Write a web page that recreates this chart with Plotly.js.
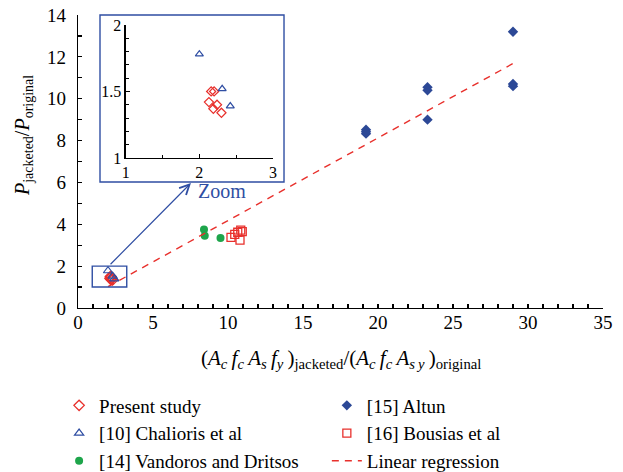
<!DOCTYPE html>
<html>
<head>
<meta charset="utf-8">
<script src="https://cdn.plot.ly/plotly-3.0.1.min.js"></script>
<style>html,body{margin:0;padding:0;background:#fff;}#chart{width:623px;height:472px;}</style>
</head>
<body>
<div id="chart"></div>
<script>
// ---- Data ----
const presentX = [2.16, 2.20, 2.13, 2.24, 2.19, 2.30];
const presentY = [1.50, 1.50, 1.42, 1.40, 1.37, 1.34];

const chaliorisX = [2.00, 2.31, 2.42];
const chaliorisY = [1.78, 1.52, 1.39];

const vandorosX = [8.40, 8.45, 9.50];
const vandorosY = [3.75, 3.45, 3.35];

const altunX = [19.2, 19.2, 19.2, 23.3, 23.3, 23.3, 29.0, 29.0, 29.0];
const altunY = [8.52, 8.42, 8.33, 10.55, 10.40, 9.00, 13.20, 10.70, 10.60];

const bousiasX = [10.20, 10.45, 10.65, 10.85, 10.95, 10.80];
const bousiasY = [3.37, 3.52, 3.62, 3.72, 3.65, 3.24];

const regressionX = [2.0, 29.0];
const regressionY = [1.02, 11.68];

const zoomBoxX = [0.95, 3.25];
const zoomBoxY = [1.0, 2.0];

const RED = '#e8302c', BLUE = '#2f4ea3', DBLUE = '#2c4896', GREEN = '#1ea54b';
const FONT = 'Times New Roman, Liberation Serif, DejaVu Serif, serif';

const traces = [
  {x: presentX, y: presentY, type: 'scatter', mode: 'markers', name: 'Present study', legend: 'legend',
   marker: {symbol: 'diamond-open', size: 8, color: RED, line: {width: 1.3}}},
  {x: chaliorisX, y: chaliorisY, type: 'scatter', mode: 'markers', name: '[10] Chalioris et al', legend: 'legend',
   marker: {symbol: 'triangle-up-open', size: 8, color: BLUE, line: {width: 1.2}}},
  {x: vandorosX, y: vandorosY, type: 'scatter', mode: 'markers', name: '[14] Vandoros and Dritsos', legend: 'legend',
   marker: {symbol: 'circle', size: 8, color: GREEN}},
  {x: altunX, y: altunY, type: 'scatter', mode: 'markers', name: '[15] Altun', legend: 'legend2',
   marker: {symbol: 'diamond', size: 8, color: DBLUE}},
  {x: bousiasX, y: bousiasY, type: 'scatter', mode: 'markers', name: '[16] Bousias et al', legend: 'legend2',
   marker: {symbol: 'square-open', size: 8, color: RED, line: {width: 1.3}}},
  {x: regressionX, y: regressionY, type: 'scatter', mode: 'lines', name: 'Linear regression', legend: 'legend2',
   line: {color: RED, width: 1.4, dash: '7px,6px'}},
  // inset
  {x: presentX, y: presentY, type: 'scatter', mode: 'markers', xaxis: 'x2', yaxis: 'y2', showlegend: false,
   marker: {symbol: 'diamond-open', size: 7, color: RED, line: {width: 1.2}}},
  {x: chaliorisX, y: chaliorisY, type: 'scatter', mode: 'markers', xaxis: 'x2', yaxis: 'y2', showlegend: false,
   marker: {symbol: 'triangle-up-open', size: 7, color: BLUE, line: {width: 1.2}}}
];

const axCommon = {showgrid: false, zeroline: false, showline: true, linecolor: '#000', linewidth: 1.3,
  ticks: 'inside', ticklen: 4, tickcolor: '#000', tickwidth: 1.2,
  tickfont: {family: FONT, size: 19, color: '#000'}};

const sp = '&#8201;';
const xTitle = '(<i>A</i><sub><i>c</i></sub>' + sp + '<i>f</i><sub><i>c</i></sub>' + sp + '<i>A</i><sub><i>s</i></sub>' + sp +
  '<i>f</i><sub><i>y</i></sub>' + sp + ')<sub>jacketed</sub>/(<i>A</i><sub><i>c</i></sub>' + sp + '<i>f</i><sub><i>c</i></sub>' + sp +
  '<i>A</i><sub><i>s</i>' + sp + '<i>y</i></sub>' + sp + ')<sub>original</sub>';

const layout = {
  width: 623, height: 472,
  margin: {l: 78, r: 20, t: 15, b: 164, autoexpand: false},
  paper_bgcolor: '#fff', plot_bgcolor: 'rgba(0,0,0,0)',
  font: {family: FONT, color: '#000'},
  xaxis: Object.assign({}, axCommon, {range: [0, 35], dtick: 5, tick0: 0, ticklabelstandoff: -3,
    minor: {dtick: 1, ticks: 'inside', ticklen: 4, tickcolor: '#000', tickwidth: 1.2}}),
  yaxis: Object.assign({}, axCommon, {range: [0, 14], dtick: 2, tick0: 0, ticklabelstandoff: 7,
    minor: {dtick: 1, ticks: 'inside', ticklen: 4, tickcolor: '#000', tickwidth: 1.2}}),
  xaxis2: Object.assign({}, axCommon, {domain: [0.0909, 0.3714], anchor: 'y2', range: [1, 3], dtick: 1, tick0: 1,
    tickfont: {family: FONT, size: 16, color: '#000'},
    minor: {dtick: 0.5, ticks: 'inside', ticklen: 3, tickcolor: '#000', tickwidth: 1}}),
  yaxis2: Object.assign({}, axCommon, {domain: [0.512, 0.966], anchor: 'x2', range: [1, 2], dtick: 0.5, tick0: 1,
    tickfont: {family: FONT, size: 16, color: '#000'},
    minor: {dtick: 0.1, ticks: 'inside', ticklen: 3, tickcolor: '#000', tickwidth: 1}}),
  showlegend: true,
  legend: {x: -0.036, xanchor: 'left', y: -0.268, yanchor: 'top', bgcolor: 'rgba(0,0,0,0)',
    font: {family: FONT, size: 19, color: '#000'}, tracegroupgap: 0},
  legend2: {x: 0.474, xanchor: 'left', y: -0.268, yanchor: 'top', bgcolor: 'rgba(0,0,0,0)',
    font: {family: FONT, size: 19, color: '#000'}, tracegroupgap: 0},
  shapes: [
    {type: 'rect', xref: 'paper', yref: 'paper', x0: 0.0419, x1: 0.3924, y0: 0.430, y1: 1.0,
     line: {color: BLUE, width: 1.4}},
    {type: 'rect', xref: 'x', yref: 'y', x0: zoomBoxX[0], x1: zoomBoxX[1], y0: zoomBoxY[0], y1: zoomBoxY[1],
     line: {color: BLUE, width: 1.4}}
  ],
  annotations: [
    {xref: 'x', yref: 'y', x: 7.53, y: 5.97, axref: 'x', ayref: 'y', ax: 2.07, ay: 2.02,
     text: '', showarrow: true, arrowhead: 5, arrowsize: 1.6, arrowwidth: 1.2, arrowcolor: BLUE},
    {xref: 'paper', yref: 'paper', x: 0.274, y: 0.399, xanchor: 'center', yanchor: 'middle',
     text: 'Zoom', showarrow: false,
     font: {family: FONT, size: 20, color: BLUE}},
    {xref: 'paper', yref: 'paper', x: 0.5, y: -0.175, xanchor: 'center', yanchor: 'middle', showarrow: false,
     text: xTitle,
     font: {family: FONT, size: 21, color: '#000'}},
    {xref: 'paper', yref: 'paper', x: -0.105, y: 0.59, xanchor: 'center', yanchor: 'middle', showarrow: false,
     textangle: -90,
     text: '<i>P</i><sub>jacketed</sub>/<i>P</i><sub>original</sub>',
     font: {family: FONT, size: 20, color: '#000'}}
  ]
};

Plotly.newPlot('chart', traces, layout, {displayModeBar: false, staticPlot: true});
</script>
</body>
</html>
